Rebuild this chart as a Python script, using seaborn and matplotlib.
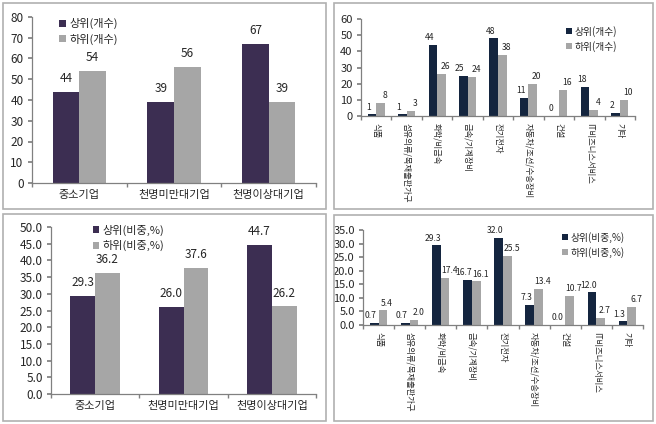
import matplotlib
matplotlib.use("Agg")
import matplotlib.pyplot as plt
import numpy as np
import pandas as pd
import seaborn as sns
from matplotlib.patches import Rectangle

SIZE_CATS = ["중소기업", "천명미만대기업", "천명이상대기업"]
SIZE_TOP_N = [44, 39, 67]
SIZE_LOW_N = [54, 56, 39]
SIZE_TOP_PCT = [29.3, 26.0, 44.7]
SIZE_LOW_PCT = [36.2, 37.6, 26.2]

IND_CATS = ["식품", "섬유의류/목재출판가구", "화학/비금속", "금속/기계장비", "전기전자",
            "자동차/조선/수송장비", "건설", "IT비즈니스서비스", "기타"]
IND_TOP_N = [1, 1, 44, 25, 48, 11, 0, 18, 2]
IND_LOW_N = [8, 3, 26, 24, 38, 20, 16, 4, 10]
IND_TOP_PCT = [0.7, 0.7, 29.3, 16.7, 32.0, 7.3, 0.0, 12.0, 1.3]
IND_LOW_PCT = [5.4, 2.0, 17.4, 16.1, 25.5, 13.4, 10.7, 2.7, 6.7]

sns.set_theme(style="white")
plt.rcParams["font.family"] = ["Noto Sans CJK KR", "DejaVu Sans"]

W, H = 656, 424
fig = plt.figure(figsize=(W / 100, H / 100), dpi=100)


def frac(x0, y0, x1, y1):
    return [x0 / W, 1 - y1 / H, (x1 - x0) / W, (y1 - y0) / H]


def make_df(cats, top, low, names):
    return pd.DataFrame({
        "cat": cats * 2,
        "val": list(top) + list(low),
        "series": [names[0]] * len(cats) + [names[1]] * len(cats),
    })


def draw_panel(box, axrect, cats, top, low, names, dark, ymax, step, fmt,
               legend_loc, legend_anchor, vertical):
    fig.patches.append(Rectangle((box[0] / W, 1 - box[3] / H),
                                 (box[2] - box[0]) / W, (box[3] - box[1]) / H,
                                 transform=fig.transFigure, fill=False,
                                 edgecolor="#b0b0b0", linewidth=1.2))
    ax = fig.add_axes(frac(*axrect))
    df = make_df(cats, top, low, names)
    sns.barplot(data=df, x="cat", y="val", hue="series", ax=ax,
                palette=[dark, "#a6a6a6"], width=0.56, saturation=1,
                edgecolor="none")
    ticks = np.arange(0, ymax + step / 2, step)
    ax.set_ylim(0, ymax)
    ax.set_yticks(ticks)
    ax.set_yticklabels([fmt % v for v in ticks], fontsize=8 if vertical else 8.5)
    n = len(cats)
    ax.set_xlim(-0.5, n - 0.5)
    ax.set_xticks(np.arange(-0.5, n, 1), minor=True)
    ax.tick_params(axis="x", which="major", length=0, pad=5)
    ax.tick_params(axis="x", which="minor", length=3, color="#808080", bottom=True)
    ax.tick_params(axis="y", length=3, color="#808080", left=True, pad=3)
    if vertical:
        ax.set_xticklabels(cats, rotation=-90, fontsize=6, va="top", ha="center")
    else:
        ax.set_xticklabels(cats, fontsize=8)
    ax.set_xlabel("")
    ax.set_ylabel("")
    for s in ["top", "right"]:
        ax.spines[s].set_visible(False)
    for s in ["left", "bottom"]:
        ax.spines[s].set_color("#808080")
        ax.spines[s].set_linewidth(0.9)
    pad = 2 if vertical else 5
    for i, c in enumerate(ax.containers):
        labels = ax.bar_label(c, fmt=fmt, padding=pad,
                              fontsize=6.2 if vertical else 8.5)
        if vertical:
            # nudge the pair of labels apart like the original
            shift = -2.5 if i == 0 else 3
            for t in labels:
                t.xyann = (shift, pad)
    ax.legend(loc=legend_loc, bbox_to_anchor=legend_anchor, frameon=False,
              fontsize=7 if vertical else 8, handlelength=0.6, handleheight=0.6,
              handletextpad=0.3, labelspacing=0.4, borderaxespad=0)
    return ax


draw_panel((3, 3, 326, 209), (32, 17, 316, 183), SIZE_CATS, SIZE_TOP_N, SIZE_LOW_N,
           ["상위(개수)", "하위(개수)"], "#3c2e52", 80, 10, "%d",
           "upper left", (0.08, 1.02), False)

draw_panel((334, 3, 653, 209), (361, 19, 635, 116), IND_CATS, IND_TOP_N, IND_LOW_N,
           ["상위(개수)", "하위(개수)"], "#14253f", 60, 10, "%d",
           "upper right", (0.95, 0.97), True)

draw_panel((3, 214, 326, 421), (51, 227, 316, 394), SIZE_CATS, SIZE_TOP_PCT, SIZE_LOW_PCT,
           ["상위(비중,%)", "하위(비중,%)"], "#3c2e52", 50, 5, "%.1f",
           "upper left", (0.14, 1.04), False)

draw_panel((334, 215, 653, 421), (363, 230, 643, 325), IND_CATS, IND_TOP_PCT, IND_LOW_PCT,
           ["상위(비중,%)", "하위(비중,%)"], "#14253f", 35, 5, "%.1f",
           "upper right", (0.95, 1.02), True)

fig.savefig("out.png", dpi=100)
